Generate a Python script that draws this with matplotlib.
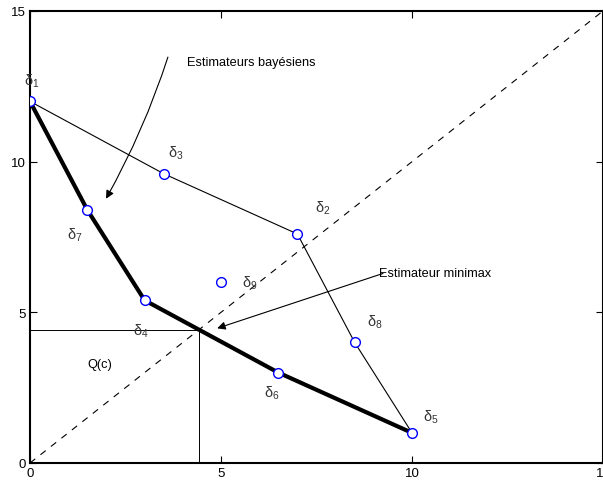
import numpy as np
import matplotlib
matplotlib.use('Agg')
import matplotlib.pyplot as plt

plt.rcParams['font.family'] = ['Liberation Sans', 'DejaVu Sans']
plt.rcParams['mathtext.fontset'] = 'custom'
plt.rcParams['mathtext.rm'] = 'Liberation Sans'

# Risk points (R(theta1), R(theta2)) for the decision rules delta_1 .. delta_9
labels = ['1', '2', '3', '4', '5', '6', '7', '8', '9']
rx = [0, 7, 3.5, 3, 10, 6.5, 1.5, 8.5, 5]
ry = [12, 7.6, 9.6, 5.4, 1, 3, 8.4, 4, 6]

# where the delta names are written
lab_x = [-0.15, 7.46, 3.61, 2.7, 10.3, 6.13, 0.96, 8.82, 5.54]
lab_y = [12.7, 8.5, 10.3, 4.4, 1.55, 2.35, 7.6, 4.7, 6.0]

# upper hull (thin) and lower hull = Bayes rules (thick)
upper = [0, 2, 1, 7, 4]
lower = [0, 6, 3, 5, 4]

fig = plt.figure(figsize=(6.03, 4.81), dpi=100)
ax = fig.add_axes([30 / 603, 17 / 481, 573 / 603, 452 / 481])

ax.plot([0, 15], [0, 15], 'k--', lw=0.8, dashes=(6, 6))
ax.plot([rx[i] for i in upper], [ry[i] for i in upper], 'k-', lw=0.8)
ax.plot([rx[i] for i in lower], [ry[i] for i in lower], 'k-', lw=3)

# minimax point: where the bisector crosses the segment delta_4 - delta_6
x4, y4, x6, y6 = rx[3], ry[3], rx[5], ry[5]
slope = (y6 - y4) / (x6 - x4)
qc = (y4 - slope * x4) / (1 - slope)
ax.plot([0, qc], [qc, qc], 'k-', lw=0.7)
ax.plot([qc, qc], [0, qc], 'k-', lw=0.7)

ax.plot(rx, ry, 'o', mfc='white', mec='blue', ms=7, mew=1, zorder=5)

for i, lab in enumerate(labels):
    ax.text(lab_x[i], lab_y[i], 'δ$_{\\mathrm{%s}}$' % lab, fontsize=10.5,
            va='center', ha='left', color='#333333')

ax.text(4.11, 13.3, 'Estimateurs bayésiens', fontsize=9.2, va='center')
ax.text(9.14, 6.3, 'Estimateur minimax', fontsize=9.2, va='center')
ax.text(1.5, 3.3, 'Q(c)', fontsize=9.2, va='center')

ax.annotate('', xy=(1.99, 8.77), xytext=(3.61, 13.47),
            arrowprops=dict(arrowstyle='-|>', color='k', lw=0.8,
                            mutation_scale=12, shrinkA=0, shrinkB=0,
                            connectionstyle='arc3,rad=-0.05'))
ax.annotate('', xy=(4.9, 4.47), xytext=(9.24, 6.29),
            arrowprops=dict(arrowstyle='-|>', color='k', lw=0.8,
                            mutation_scale=12, shrinkA=0, shrinkB=0))

ax.set_xlim(0, 15)
ax.set_ylim(0, 15)
ax.set_xticks([0, 5, 10, 15])
ax.set_yticks([0, 5, 10, 15])
ax.tick_params(direction='in', length=5, width=0.8, labelsize=9.5,
               top=True, right=True, pad=3)
for s in ax.spines.values():
    s.set_linewidth(1.5)

fig.savefig('out.png', dpi=100)
